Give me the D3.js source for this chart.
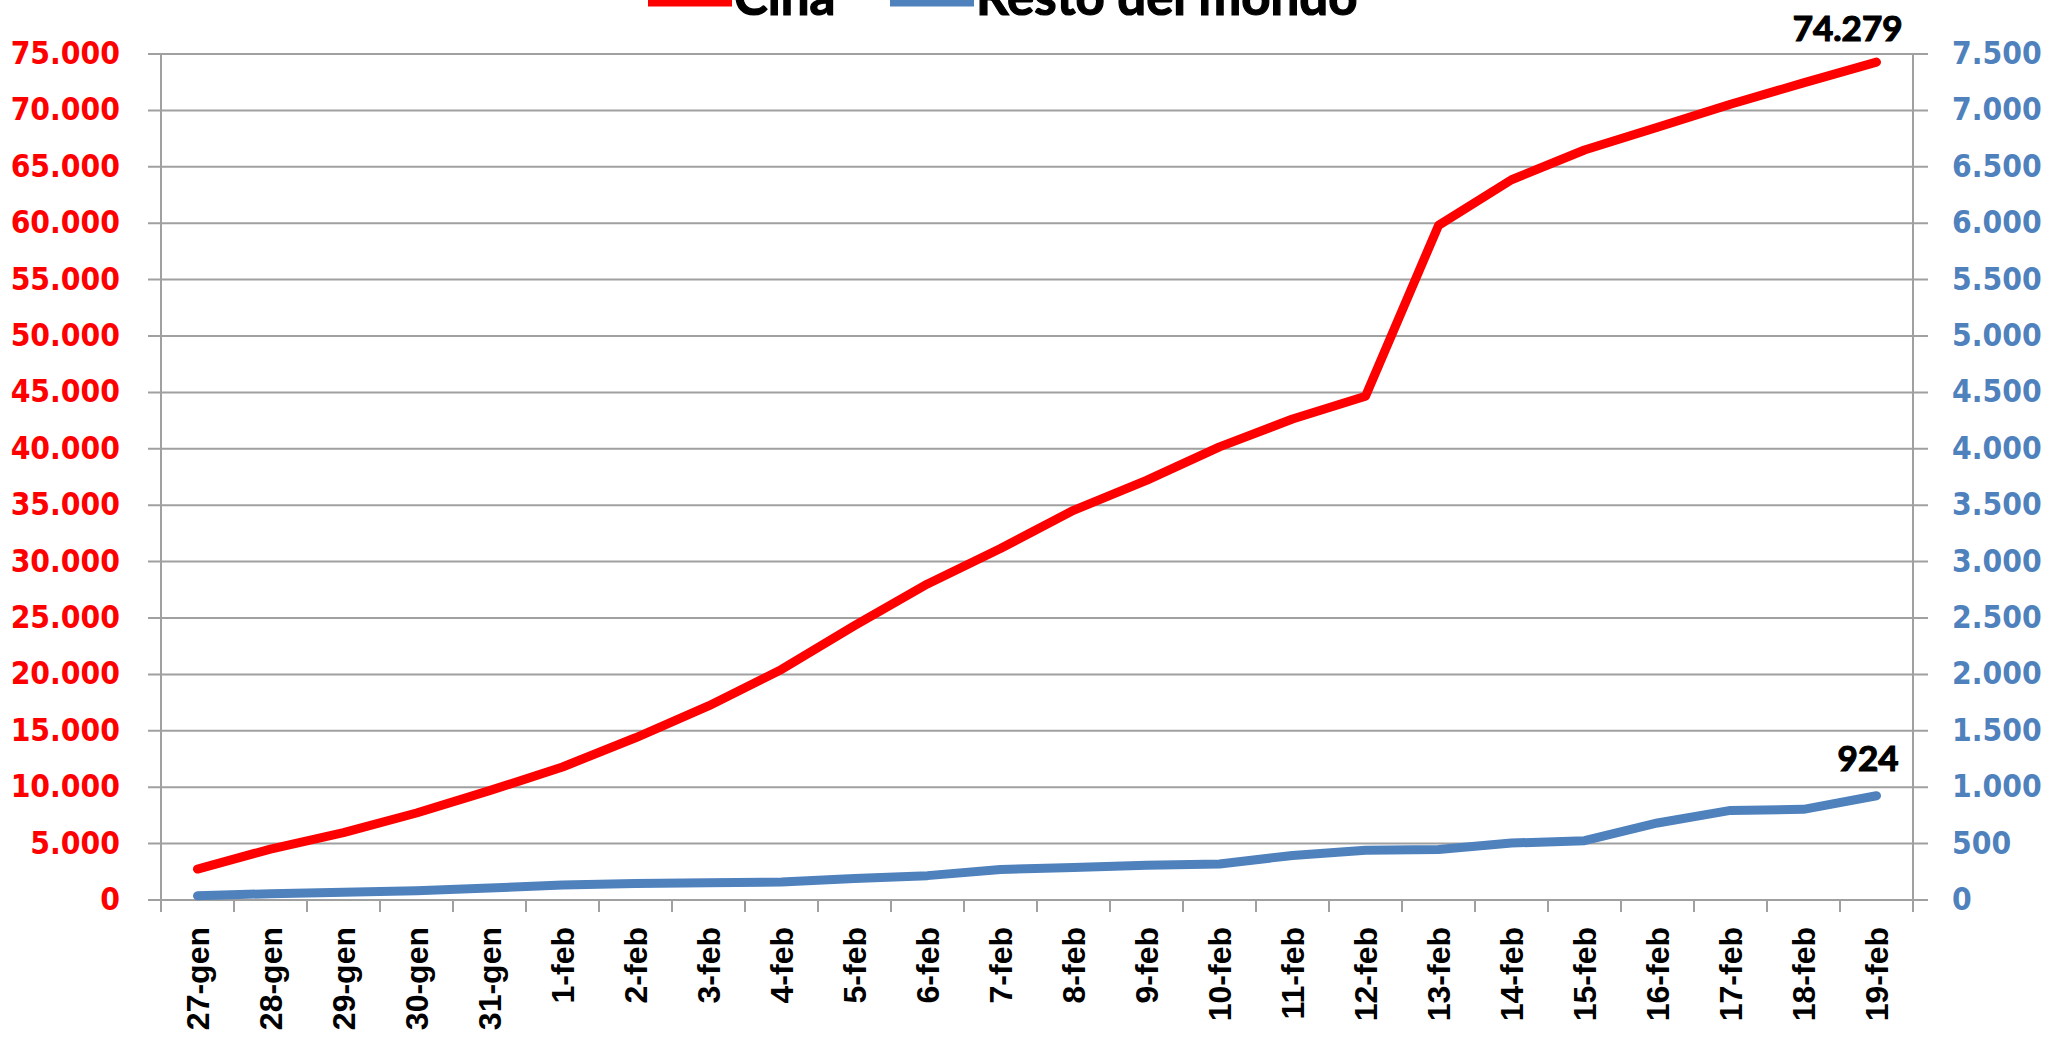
<!doctype html>
<html lang="it">
<head>
<meta charset="utf-8">
<title>Cina vs Resto del mondo</title>
<script src="https://cdn.jsdelivr.net/npm/d3@7/dist/d3.min.js"></script>
<style>
  html, body { margin: 0; padding: 0; background: #fff; }
  svg { display: block; }
  .ylab { font-family: "DejaVu Sans Condensed", "DejaVu Sans", sans-serif; font-stretch: condensed; font-weight: bold; font-size: 31.5px; }
  .xlab { font-family: "Liberation Sans", Arial, sans-serif; font-weight: bold; font-size: 32px; fill: #000; }
  .dlab { font-family: Lato, "Open Sans", sans-serif; font-weight: bold; font-size: 35px; fill: #000; stroke: #000; stroke-width: 1.2px; }
  .leg { font-family: Lato, "Open Sans", sans-serif; font-weight: bold; font-size: 51px; fill: #000; stroke: #000; stroke-width: 1.2px; }
</style>
</head>
<body>
<div id="chart"></div>
<script>
var categories = ["27-gen","28-gen","29-gen","30-gen","31-gen",
  "1-feb","2-feb","3-feb","4-feb","5-feb","6-feb","7-feb","8-feb","9-feb","10-feb",
  "11-feb","12-feb","13-feb","14-feb","15-feb","16-feb","17-feb","18-feb","19-feb"];
var cinaValues = [2744,4515,5974,7711,9692,
  11791,14380,17205,20438,24324,28018,31161,34546,37198,40171,
  42638,44653,59804,63851,66492,68500,70548,72436,74279];
var restoValues = [37,56,68,82,106,
  132,146,153,159,191,216,270,288,307,319,
  395,441,447,505,526,683,794,804,924];
var seriesNames = ["Cina", "Resto del mondo"];
var seriesColors = ["#ff0000", "#4f81bd"];
var leftTicks = [0,5000,10000,15000,20000,25000,30000,35000,40000,45000,50000,55000,60000,65000,70000,75000];
var rightTicks = [0,500,1000,1500,2000,2500,3000,3500,4000,4500,5000,5500,6000,6500,7000,7500];

var W = 2050, H = 1038;
var plotLeft = 161, plotRight = 1913, plotTop = 54, plotBottom = 900;

var it = d3.formatLocale({decimal: ",", thousands: ".", grouping: [3], currency: ["", "€"]});
var fmt = it.format(",d");

var svg = d3.select("#chart").append("svg")
    .attr("width", W)
    .attr("height", H);

var x = d3.scaleBand().domain(categories).range([plotLeft, plotRight]).padding(0);
var yL = d3.scaleLinear().domain([0, 75000]).range([plotBottom, plotTop]);
var yR = d3.scaleLinear().domain([0, 7500]).range([plotBottom, plotTop]);
var cx = function (d) { return x(d) + x.bandwidth() / 2; };

// gridlines (span from left tick to right tick)
svg.append("g").selectAll("line")
    .data(leftTicks)
    .enter().append("line")
    .attr("x1", plotLeft - 13).attr("x2", plotRight + 15)
    .attr("y1", function (d) { return yL(d); })
    .attr("y2", function (d) { return yL(d); })
    .attr("stroke", "#a0a0a0")
    .attr("stroke-width", 2);

// vertical axis lines
svg.append("g").selectAll("line")
    .data([plotLeft, plotRight])
    .enter().append("line")
    .attr("x1", function (d) { return d; }).attr("x2", function (d) { return d; })
    .attr("y1", plotTop).attr("y2", plotBottom + 12)
    .attr("stroke", "#a0a0a0")
    .attr("stroke-width", 2);

// x ticks at band edges
var edges = categories.map(function (d) { return x(d); }).concat([plotRight]);
svg.append("g").selectAll("line")
    .data(edges)
    .enter().append("line")
    .attr("x1", function (d) { return d; }).attr("x2", function (d) { return d; })
    .attr("y1", plotBottom).attr("y2", plotBottom + 12)
    .attr("stroke", "#a0a0a0")
    .attr("stroke-width", 2);

// left axis labels
var gl = svg.append("g")
    .attr("transform", "translate(" + plotLeft + ",0)")
    .call(d3.axisLeft(yL).tickValues(leftTicks).tickFormat(fmt).tickSize(0).tickPadding(41));
gl.select(".domain").remove();
gl.selectAll("text")
    .attr("class", "ylab")
    .attr("fill", seriesColors[0])
    .attr("dy", "0.3em");

// right axis labels
var gr = svg.append("g")
    .attr("transform", "translate(" + plotRight + ",0)")
    .call(d3.axisRight(yR).tickValues(rightTicks).tickFormat(fmt).tickSize(0).tickPadding(39));
gr.select(".domain").remove();
gr.selectAll("text")
    .attr("class", "ylab")
    .attr("fill", seriesColors[1])
    .attr("dy", "0.3em");

// x labels, rotated
svg.append("g").selectAll("text")
    .data(categories)
    .enter().append("text")
    .attr("class", "xlab")
    .attr("text-anchor", "end")
    .attr("transform", function (d) { return "translate(" + cx(d) + "," + (plotBottom + 27) + ") rotate(-90)"; })
    .attr("dy", "0.35em")
    .text(function (d) { return d; });

// lines
var lineL = d3.line().x(function (d, i) { return cx(categories[i]); }).y(function (d) { return yL(d); });
var lineR = d3.line().x(function (d, i) { return cx(categories[i]); }).y(function (d) { return yR(d); });

svg.append("path")
    .datum(restoValues)
    .attr("d", lineR)
    .attr("fill", "none")
    .attr("stroke", seriesColors[1])
    .attr("stroke-width", 9)
    .attr("stroke-linejoin", "round")
    .attr("stroke-linecap", "round");

svg.append("path")
    .datum(cinaValues)
    .attr("d", lineL)
    .attr("fill", "none")
    .attr("stroke", seriesColors[0])
    .attr("stroke-width", 9)
    .attr("stroke-linejoin", "round")
    .attr("stroke-linecap", "round");

// data labels on last points
var last = categories.length - 1;
svg.append("text")
    .attr("class", "dlab")
    .attr("text-anchor", "end")
    .attr("x", cx(categories[last]) + 26)
    .attr("y", yL(cinaValues[last]) - 21)
    .text(fmt(cinaValues[last]));
svg.append("text")
    .attr("class", "dlab")
    .attr("text-anchor", "end")
    .attr("x", cx(categories[last]) + 22)
    .attr("y", yR(restoValues[last]) - 25)
    .text(fmt(restoValues[last]));

// legend (partly cut at the top, as in the original)
var legX = [648, 890];
var leg = svg.append("g").selectAll("g")
    .data(seriesNames)
    .enter().append("g")
    .attr("transform", function (d, i) { return "translate(" + legX[i] + ",0)"; });
leg.append("line")
    .attr("x1", 0).attr("x2", 84)
    .attr("y1", 2).attr("y2", 2)
    .attr("stroke", function (d, i) { return seriesColors[i]; })
    .attr("stroke-width", 9);
leg.append("text")
    .attr("class", "leg")
    .attr("x", 86)
    .attr("y", 15)
    .text(function (d) { return d; });
</script>
</body>
</html>
